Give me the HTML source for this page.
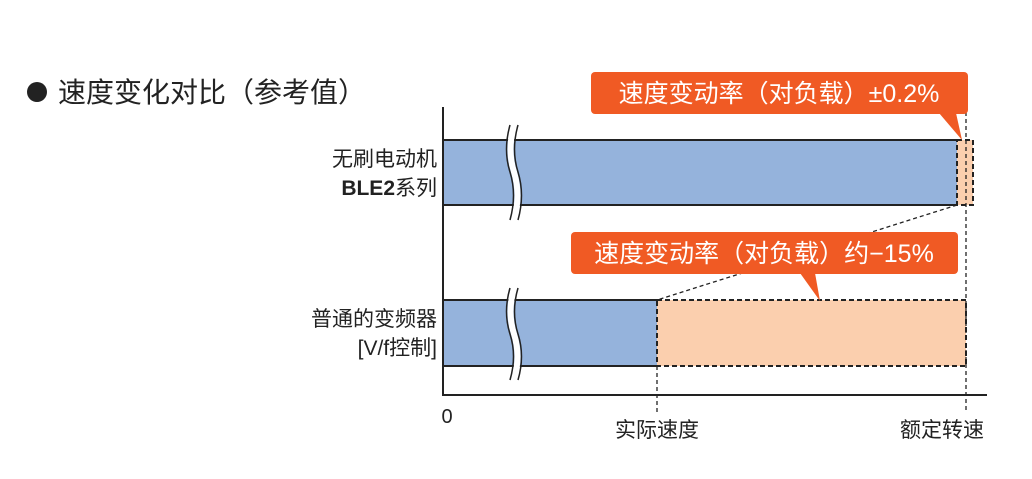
<!DOCTYPE html>
<html><head><meta charset="utf-8"><style>
body{margin:0;background:#fff;width:1032px;height:474px;overflow:hidden}
svg text{font-family:"Liberation Sans","Noto Sans CJK SC",sans-serif}
</style></head><body>
<svg width="1032" height="474" viewBox="0 0 1032 474">
<circle cx="37" cy="92" r="10" fill="#222"/>
<text x="58" y="102" font-size="28" fill="#222">速度变化对比（参考值）</text>
<rect x="443" y="140" width="514" height="65" fill="#95b3dc"/>
<line x1="443" y1="140" x2="957" y2="140" stroke="#222" stroke-width="2"/>
<line x1="443" y1="205" x2="957" y2="205" stroke="#222" stroke-width="2"/>
<rect x="957" y="140" width="16" height="65" fill="#fbcfae" stroke="#222" stroke-width="2" stroke-dasharray="5,3"/>
<rect x="443" y="300" width="214" height="66" fill="#95b3dc"/>
<line x1="443" y1="300" x2="657" y2="300" stroke="#222" stroke-width="2"/>
<line x1="443" y1="366" x2="657" y2="366" stroke="#222" stroke-width="2"/>
<rect x="657" y="300" width="309" height="66" fill="#fbcfae" stroke="#222" stroke-width="2" stroke-dasharray="5,3"/>
<path d="M514 125 Q507 150 514 172 Q521 195 514 220" stroke="#fff" stroke-width="6" fill="none"/>
<path d="M510 125 Q503 150 510 172 Q517 195 510 220 M518 125 Q511 150 518 172 Q525 195 518 220" stroke="#222" stroke-width="1.5" fill="none"/>
<path d="M514 288 Q507 312 514 334 Q521 356 514 380" stroke="#fff" stroke-width="6" fill="none"/>
<path d="M510 288 Q503 312 510 334 Q517 356 510 380 M518 288 Q511 312 518 334 Q525 356 518 380" stroke="#222" stroke-width="1.5" fill="none"/>
<line x1="443" y1="107" x2="443" y2="396" stroke="#222" stroke-width="2"/>
<line x1="442" y1="395" x2="987" y2="395" stroke="#222" stroke-width="2"/>
<line x1="957" y1="205" x2="657" y2="300" stroke="#222" stroke-width="1.3" stroke-dasharray="4,3"/>
<line x1="657" y1="366" x2="657" y2="412" stroke="#222" stroke-width="1.3" stroke-dasharray="4,3"/>
<line x1="966" y1="112" x2="966" y2="412" stroke="#222" stroke-width="1.3" stroke-dasharray="4,3"/>
<rect x="591" y="72" width="377" height="42" rx="4" fill="#f05a24"/>
<path d="M939 113 L962 140 L956 113 Z" fill="#f05a24"/>
<text x="779" y="102" font-size="25" fill="#fff" text-anchor="middle">速度变动率（对负载）±0.2%</text>
<rect x="571" y="232" width="387" height="42" rx="4" fill="#f05a24"/>
<path d="M800 273 L820 301 L815 273 Z" fill="#f05a24"/>
<text x="764" y="262" font-size="25" fill="#fff" text-anchor="middle">速度变动率（对负载）约−15%</text>
<text x="437" y="166" font-size="21" fill="#222" text-anchor="end">无刷电动机</text>
<text x="437" y="195" font-size="21" fill="#222" text-anchor="end"><tspan font-weight="bold">BLE2</tspan>系列</text>
<text x="437" y="326" font-size="21" fill="#222" text-anchor="end">普通的变频器</text>
<text x="437" y="355" font-size="21" fill="#222" text-anchor="end">[V/f控制]</text>
<text x="447" y="423" font-size="20" fill="#222" text-anchor="middle">0</text>
<text x="657" y="437" font-size="21" fill="#222" text-anchor="middle">实际速度</text>
<text x="942" y="437" font-size="21" fill="#222" text-anchor="middle">额定转速</text>
</svg>
</body></html>
